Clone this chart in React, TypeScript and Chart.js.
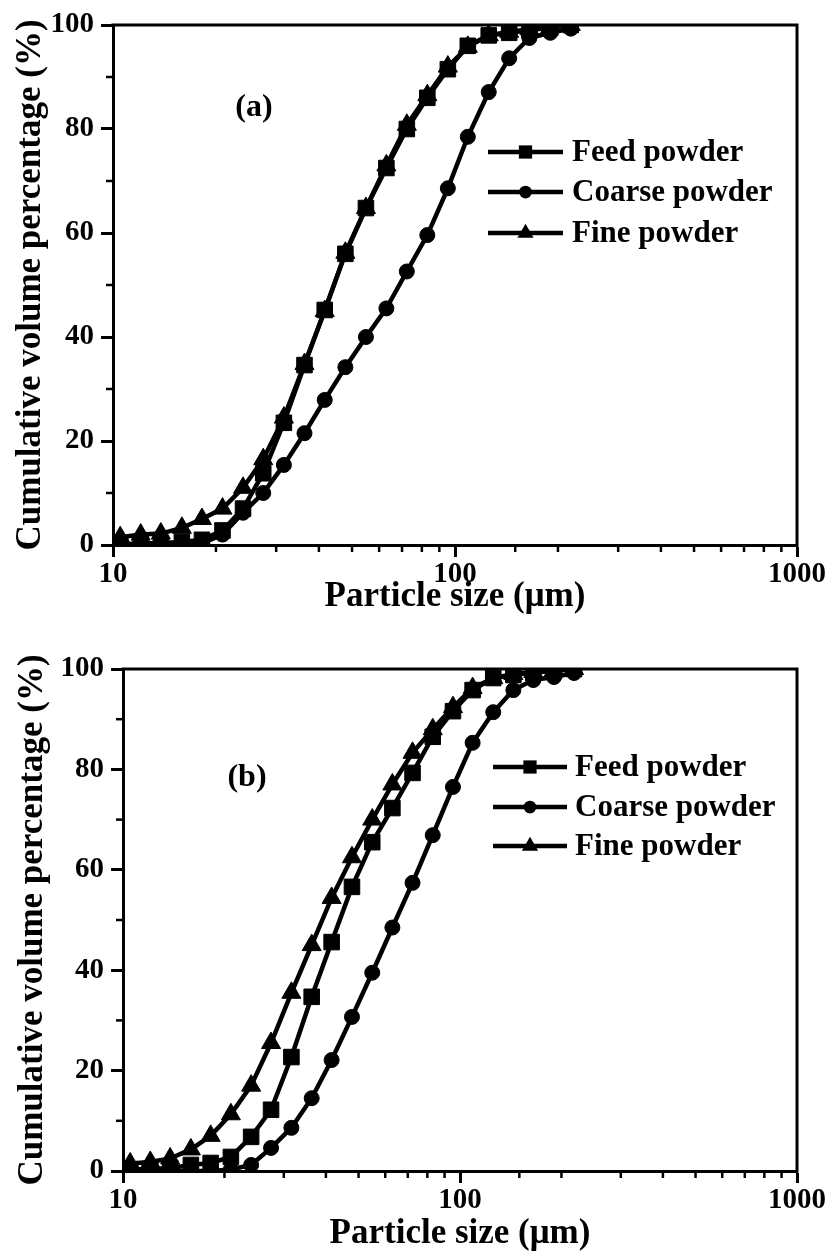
import React, { useEffect, useRef } from 'react';
import { Chart, registerables } from 'chart.js';

Chart.register(...registerables);

// ---------- data ----------
const sizes = [10.5, 12.05, 13.8, 15.9, 18.2, 20.9, 24.0, 27.5, 31.6, 36.3, 41.6, 47.8, 54.9, 63.0, 72.3, 83.0, 95.3, 109, 125.5, 144, 165, 190, 218];

const feedA = [0.2, 0.3, 0.4, 0.6, 1.0, 2.8, 7.0, 13.8, 23.5, 34.6, 45.2, 56.0, 64.8, 72.5, 80.0, 86.0, 91.5, 96.0, 98.0, 98.5, 99.0, 99.5, 100];
const coarseA = [0, 0, 0, 0, 0.3, 2.0, 6.2, 10.0, 15.4, 21.5, 27.9, 34.2, 40.0, 45.5, 52.6, 59.6, 68.6, 78.5, 87.1, 93.6, 97.5, 98.5, 99.3];
const fineA = [1.5, 2.0, 2.2, 3.3, 5.0, 7.0, 11.0, 16.5, 24.5, 34.8, 45.0, 56.2, 64.8, 73.0, 80.8, 86.5, 92.0, 95.8, 98.0, 98.7, 99.2, 99.6, 100];

const feedB = [0.3, 0.4, 0.6, 1.2, 1.6, 2.8, 6.8, 12.2, 22.7, 34.7, 45.6, 56.6, 65.5, 72.3, 79.3, 86.5, 91.6, 95.8, 98.2, 98.8, 99.3, 99.6, 100];
const coarseB = [0, 0, 0, 0, 0, 0.3, 1.2, 4.6, 8.6, 14.5, 22.1, 30.7, 39.5, 48.5, 57.4, 66.9, 76.5, 85.3, 91.4, 95.8, 97.8, 98.4, 99.2];
const fineB = [1.5, 1.8, 2.5, 4.3, 7.0, 11.3, 17.0, 25.5, 35.5, 45.0, 54.4, 62.5, 70.0, 77.0, 83.3, 88.0, 92.4, 96.2, 98.2, 99.0, 99.4, 99.7, 100];

const seriesNames = ['Feed powder', 'Coarse powder', 'Fine powder'];
const markerStyles = ['rect', 'circle', 'triangle'];
const xMajorTicks = [10, 100, 1000];
const yMinorTicks = [10, 30, 50, 70, 90];

const FONT = '"Liberation Serif", "Times New Roman", serif';

// ---------- layout per panel ----------
const panels = [
  {
    id: 'a', label: '(a)', top: 0, height: 620, series: [feedA, coarseA, fineA],
    padTop: 25, yAxisWidth: 113, xAxisHeight: 75, yTitlePad: 10, xTitlePad: 2, xTickPad: 0,
    labelPos: [141, 83],
    legend: { x1: 488, x2: 563, tx: 572, rows: [152, 192, 233] },
  },
  {
    id: 'b', label: '(b)', top: 620, height: 640, series: [feedB, coarseB, fineB],
    padTop: 49, yAxisWidth: 123, xAxisHeight: 89, yTitlePad: 12, xTitlePad: 5, xTickPad: 0,
    labelPos: [124, 109],
    legend: { x1: 493, x2: 567, tx: 575, rows: [147, 187, 226] },
  },
];

function marker(ctx: CanvasRenderingContext2D, style: string, x: number, y: number, r: number) {
  ctx.beginPath();
  if (style === 'rect') {
    const s = Math.SQRT1_2 * r;
    ctx.rect(x - s, y - s, 2 * s, 2 * s);
  } else if (style === 'circle') {
    ctx.arc(x, y, r, 0, Math.PI * 2);
  } else {
    let a = 0;
    ctx.moveTo(x + Math.sin(a) * r, y - Math.cos(a) * r);
    a += (2 * Math.PI) / 3;
    ctx.lineTo(x + Math.sin(a) * r, y - Math.cos(a) * r);
    a += (2 * Math.PI) / 3;
    ctx.lineTo(x + Math.sin(a) * r, y - Math.cos(a) * r);
    ctx.closePath();
  }
  ctx.fill();
}

const radii = [11, 7.5, 11];

function makeDecor(p: any) {
  return {
    id: 'decor' + p.id,
    afterDraw(chart: any) {
      const ctx: CanvasRenderingContext2D = chart.ctx;
      const { left, right, top, bottom } = chart.chartArea;
      const xs = chart.scales.x;
      const ys = chart.scales.y;
      ctx.save();
      ctx.strokeStyle = '#000';
      ctx.fillStyle = '#000';
      ctx.lineWidth = 3;
      ctx.beginPath();
      ctx.moveTo(left - 1.5, top);
      ctx.lineTo(right, top);
      ctx.lineTo(right, bottom + 1.5);
      ctx.stroke();
      // minor ticks
      ctx.lineWidth = 2.5;
      xs.ticks.forEach((t: any) => {
        if (xMajorTicks.includes(t.value)) return;
        const px = xs.getPixelForValue(t.value);
        ctx.beginPath();
        ctx.moveTo(px, bottom);
        ctx.lineTo(px, bottom + 7);
        ctx.stroke();
      });
      yMinorTicks.forEach((v) => {
        const py = ys.getPixelForValue(v);
        ctx.beginPath();
        ctx.moveTo(left - 7, py);
        ctx.lineTo(left, py);
        ctx.stroke();
      });
      // legend
      const lg = p.legend;
      seriesNames.forEach((name, i) => {
        const y = lg.rows[i];
        ctx.lineWidth = 4.5;
        ctx.beginPath();
        ctx.moveTo(lg.x1, y);
        ctx.lineTo(lg.x2, y);
        ctx.stroke();
        marker(ctx, markerStyles[i], (lg.x1 + lg.x2) / 2, y, radii[i] * 0.85);
        ctx.font = `bold 31px ${FONT}`;
        ctx.textAlign = 'left';
        ctx.textBaseline = 'middle';
        ctx.fillText(name, lg.tx, y + 1);
      });
      // panel label
      ctx.font = `bold 32px ${FONT}`;
      ctx.textAlign = 'center';
      ctx.textBaseline = 'middle';
      ctx.fillText(p.label, left + p.labelPos[0], top + p.labelPos[1]);
      ctx.restore();
    },
  };
}

function Panel({ p }: { p: any }) {
  const ref = useRef<HTMLCanvasElement>(null);
  useEffect(() => {
    if (!ref.current) return;
    const datasets = p.series.map((vals: number[], i: number) => ({
      label: seriesNames[i],
      data: sizes.map((x, j) => ({ x, y: vals[j] })),
      borderColor: '#000',
      backgroundColor: '#000',
      borderWidth: 4.5,
      pointStyle: markerStyles[i],
      pointRadius: radii[i],
      pointBorderWidth: 1,
      pointBackgroundColor: '#000',
      pointBorderColor: '#000',
      tension: 0,
    }));
    const chart = new Chart(ref.current, {
      type: 'line',
      data: { datasets },
      options: {
        animation: false,
        responsive: false,
        devicePixelRatio: 1,
        parsing: false as any,
        layout: { padding: { top: p.padTop, right: 34, left: 0, bottom: 0 } },
        plugins: { legend: { display: false }, tooltip: { enabled: false } },
        scales: {
          x: {
            type: 'logarithmic',
            min: 10,
            max: 1000,
            afterFit: (s: any) => { s.height = p.xAxisHeight; },
            border: { display: true, color: '#000', width: 3 },
            grid: {
              drawOnChartArea: false,
              drawTicks: true,
              tickLength: 12,
              tickWidth: 3,
              tickColor: (c: any) => (c.tick && xMajorTicks.includes(c.tick.value) ? '#000' : 'rgba(0,0,0,0)'),
            },
            ticks: {
              autoSkip: false,
              maxRotation: 0,
              padding: p.xTickPad,
              color: '#000',
              font: { family: FONT, size: 29, weight: 'bold' },
              callback: (v: any) => (xMajorTicks.includes(Number(v)) ? String(v) : ''),
            },
            title: {
              display: true,
              text: 'Particle size (μm)',
              color: '#000',
              font: { family: FONT, size: 35, weight: 'bold' },
              padding: { top: 0, bottom: p.xTitlePad },
            },
          },
          y: {
            min: 0,
            max: 100,
            afterFit: (s: any) => { s.width = p.yAxisWidth; },
            border: { display: true, color: '#000', width: 3 },
            grid: { drawOnChartArea: false, drawTicks: true, tickLength: 12, tickWidth: 3, tickColor: '#000' },
            ticks: {
              stepSize: 20,
              padding: 7,
              color: '#000',
              font: { family: FONT, size: 29, weight: 'bold' },
            },
            title: {
              display: true,
              text: 'Cumulative volume percentage (%)',
              color: '#000',
              font: { family: FONT, size: 35, weight: 'bold' },
              padding: { top: p.yTitlePad, bottom: 0 },
            },
          },
        },
      } as any,
      plugins: [makeDecor(p)],
    });
    return () => chart.destroy();
  }, [p]);
  return (
    <canvas
      ref={ref}
      width={831}
      height={p.height}
      style={{ position: 'absolute', left: 0, top: p.top, width: 831, height: p.height }}
    />
  );
}

export default function App() {
  return (
    <div style={{ position: 'absolute', left: 0, top: 0, width: 831, height: 1260, background: '#fff' }}>
      {panels.map((p) => (
        <Panel key={p.id} p={p} />
      ))}
    </div>
  );
}
